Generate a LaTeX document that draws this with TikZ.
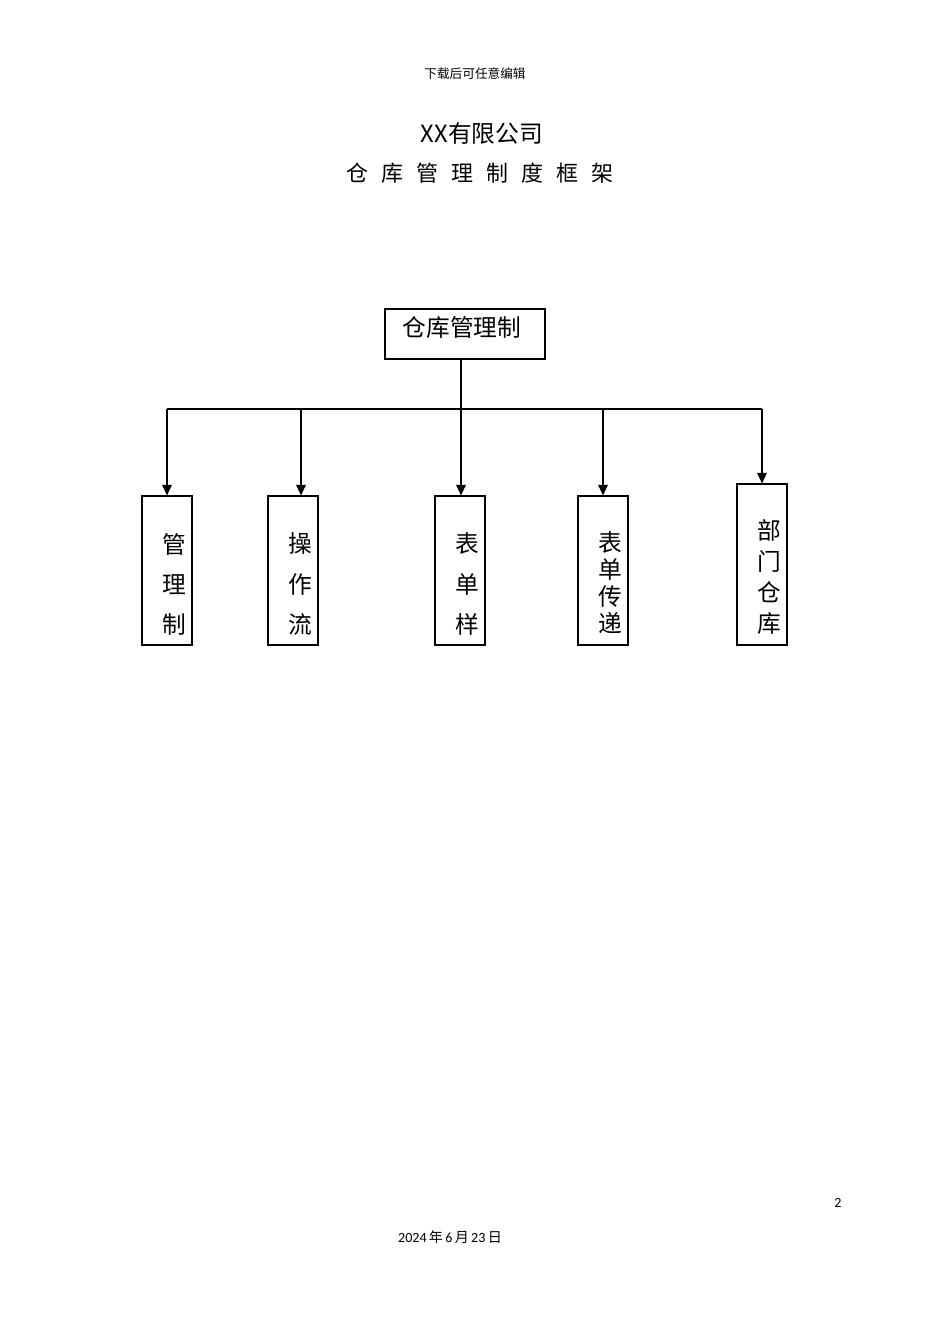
\documentclass[tikz,border=0pt]{standalone}
\usepackage{fontspec}
\setmainfont{Carlito}
\newfontfamily\cjk{Noto Sans CJK SC}
\usetikzlibrary{arrows.meta,calc}
\tikzstyle{rootbox} = [rectangle, draw, line width=0.7pt, minimum width=3.2cm, minimum height=1cm, inner sep=0pt]
\tikzstyle{childbox} = [rectangle, draw, line width=0.7pt, minimum width=1cm, minimum height=2.98cm, inner sep=0pt]
\tikzstyle{vlabel} = [align=center, inner sep=0pt, font=\cjk\fontsize{13.5}{22.8}\selectfont]
\tikzstyle{connector} = [line width=0.6pt, -{Triangle[length=6pt,width=5.5pt]}]
\begin{document}
\begin{tikzpicture}[x=0.02cm, y=-0.02cm]
        \useasboundingbox (0,0) rectangle (950,1344);
        \node (head) at (475,74) {\cjk\fontsize{7.2}{8}\selectfont 下载后可任意编辑};
        \node (company) at (482,133) {\cjk\fontsize{13.5}{15}\selectfont XX有限公司};
        \foreach \c [count=\i from 0] in {仓,库,管,理,制,度,框,架}
            \node (t\i) at (357+35*\i,173) {\cjk\fontsize{12.5}{14}\selectfont \c};
        \node (root) [rootbox] at (465,334) {};
        \node (root-text) at (462,328) {\cjk\fontsize{13.5}{15}\selectfont 仓库管理制};
        \node (b1) [childbox] at (167,570.5) {};
        \node (b2) [childbox] at (293,570.5) {};
        \node (b3) [childbox] at (460,570.5) {};
        \node (b4) [childbox] at (603,570.5) {};
        \node (b5) [childbox, minimum height=3.22cm] at (762,564.5) {};
        \node (l1) [vlabel] at (174,584) {管\\理\\制};
        \node (l2) [vlabel] at (300,584) {操\\作\\流};
        \node (l3) [vlabel] at (467,584) {表\\单\\样};
        \node (l4) [vlabel, font=\cjk\fontsize{13.5}{15.4}\selectfont] at (610,583) {表\\单\\传\\递};
        \node (l5) [vlabel, font=\cjk\fontsize{13.5}{17.6}\selectfont] at (769,577) {部\\门\\仓\\库};
        \coordinate (bus0) at (461,409);
        \coordinate (bus1) at (167,409);
        \coordinate (bus2) at (301,409);
        \coordinate (bus4) at (603,409);
        \coordinate (bus5) at (762,409);
        \draw [line width=0.6pt] (root.south -| bus0) -- (bus0);
        \draw [line width=0.6pt] (bus1) -- (bus5);
        \draw [connector] (bus1) -- (b1.north);
        \draw [connector] (bus2) -- (bus2 |- b2.north);
        \draw [connector] (bus0) -- (bus0 |- b3.north);
        \draw [connector] (bus4) -- (b4.north);
        \draw [connector] (bus5) -- (b5.north);
        \node (page) at (838,1203) {\fontsize{8}{10}\selectfont 2};
        \node (date) at (450,1237) {\fontsize{8}{10}\selectfont 2024\,{\cjk 年}\,6\,{\cjk 月}\,23\,{\cjk 日}};
    \end{tikzpicture}
\end{document}
